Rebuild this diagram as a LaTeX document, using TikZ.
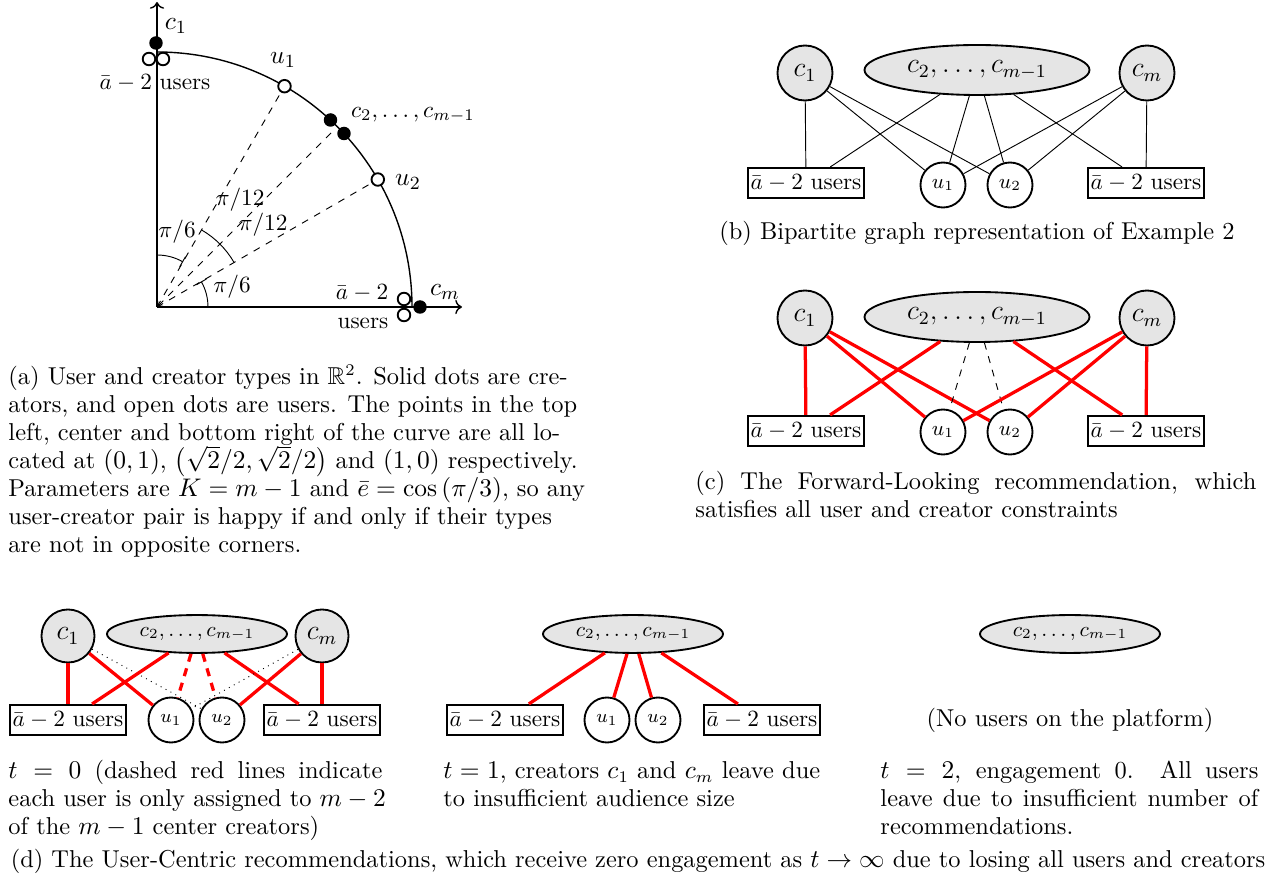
\documentclass[tikz,border=0pt]{standalone}
\usepackage{amsmath,amssymb,graphicx}
\usetikzlibrary{shapes.geometric,arrows.meta}
\newcommand\myjline[1]{\setbox0=\hbox{#1}\ifdim\wd0>\linewidth\hbox{\resizebox{\linewidth}{\ht0}{\box0}}\else\hbox to\linewidth{#1}\fi}
\newcommand\capfont{\fontsize{10.5}{12}\selectfont}
\newcommand\lblfont{\fontsize{11}{13}\selectfont}
\begin{document}
\begin{tikzpicture}[x=0.43pt,y=-0.43pt,
  cbig/.style={circle,draw,thick,fill=black!10,minimum size=23.65pt,inner sep=0pt,font=\large},
  csmall/.style={circle,draw,thick,fill=black!10,minimum size=22.8pt,inner sep=0pt,font=\large},
  ellbig/.style={ellipse,draw,thick,fill=black!10,minimum width=96.75pt,minimum height=21.5pt,inner sep=0pt,font=\large},
  ellsmall/.style={ellipse,draw,thick,fill=black!10,minimum width=77.4pt,minimum height=16.3pt,inner sep=0pt,font=\small},
  ubig/.style={circle,draw,thick,fill=white,minimum size=19.35pt,inner sep=0pt,font=\small},
  usmall/.style={circle,draw,thick,fill=white,minimum size=19.35pt,inner sep=0pt,font=\footnotesize},
  ubox/.style={rectangle,draw,thick,fill=white,minimum width=50pt,minimum height=13pt,inner sep=0pt},
  thinl/.style={black,line width=0.4pt},
  redl/.style={red,line width=1.4pt},
  reddash/.style={red,line width=1.4pt,dash pattern=on 3.5pt off 3pt},
  dashl/.style={black,line width=0.4pt,dashed},
  dotl/.style={black,line width=0.4pt,dotted},
  fdot/.style={circle,fill=black,minimum size=5.8pt,inner sep=0pt},
  odot/.style={circle,draw,thick,fill=white,minimum size=5.4pt,inner sep=0pt},
  captext/.style={inner sep=0pt,anchor=base west,font=\capfont},
]
\useasboundingbox (0,0) rectangle (1278,890);

% ---------------- (a) ----------------
\coordinate (O) at (157,307);
\coordinate (ytip) at (157,2);
\coordinate (xtip) at (462,307);
\draw[semithick,->] (O) -- (ytip);
\draw[semithick,->] (O) -- (xtip);
\draw[semithick] (157,52) arc (-90:0:255);

\coordinate (cmid) at (331,133);
\node[odot] (u1d) at (284.5,86.2) {};
\node[odot] (u2d) at (377.8,179.5) {};
\draw[dashl] (O) -- (u1d);
\draw[dashl,->] (cmid) -- (O);
\draw[dashl] (O) -- (u2d);

\node[fdot] (c1d) at (156,43) {};
\node[odot] (t1) at (149,59) {};
\node[odot] (t2) at (163,59) {};
\node[fdot] (cc1) at (330.5,120) {};
\node[fdot] (cc2) at (344,133.5) {};
\node[odot] (b1) at (404,299) {};
\node[odot] (b2) at (404,315) {};
\node[fdot] (cmd) at (420,307) {};

\draw[thinl,-{Bar[width=5pt]}] (157,255) arc (-90:-60:52);
\draw[thinl] (O) ++(-60:89) arc (-60:-30:89);
\draw[thinl,-{Bar[width=5pt]}] (208,307) arc (0:-30:51);

\node (la1) at (177,232) {$\pi/6$};
\node (la2) at (240,200) {$\pi/12$};
\node (la3) at (263,225) {$\pi/12$};
\node (la4) at (232,287) {$\pi/6$};
\node[font=\lblfont] (lc1) at (176,26) {$c_1$};
\node[font=\lblfont] (lu1) at (283,60) {$u_1$};
\node (lcc) at (413,115) {$c_2,\ldots,c_{m-1}$};
\node[font=\lblfont] (lu2) at (408,182) {$u_2$};
\node (lus1) at (155,83) {$\bar a-2$ users};
\node (lus2) at (362,293) {$\bar a-2$};
\node (lus3) at (363,323) {users};
\node[font=\lblfont] (lcm) at (445,292) {$c_m$};

\node[captext] (capa) at (8,385) {\parbox[t]{210pt}{%
\myjline{(a) User and creator types in $\mathbb{R}^2$. Solid dots are cre-}%
\myjline{ators, and open dots are users. The points in the top}%
\myjline{left, center and bottom right of the curve are all lo-}%
\myjline{cated at $(0,1)$, $\bigl(\sqrt{2}/2,\sqrt{2}/2\bigr)$ and $(1,0)$ respectively.}%
\myjline{Parameters are $K=m-1$ and $\bar{e}=\cos\left(\pi/3\right)$, so any}%
\myjline{user-creator pair is happy if and only if their types}%
\hbox{are not in opposite corners.}}};

% ---------------- (b) ----------------
\node[cbig] (bc1) at (805,73) {$c_1$};
\node[ellbig] (be) at (977,70) {$c_2,\ldots,c_{m-1}$};
\node[cbig] (bcm) at (1147,73) {$c_m$};
\node[ubox] (blb) at (806,183) {$\bar a-2$ users};
\node[ubig] (bu1) at (943,185) {$u_1$};
\node[ubig] (bu2) at (1010,185) {$u_2$};
\node[ubox] (brb) at (1146,183) {$\bar a-2$ users};
\draw[thinl] (bc1) -- (blb);
\draw[thinl] (bc1) -- (bu1);
\draw[thinl] (bc1) -- (bu2);
\draw[thinl] (be) -- (blb);
\draw[thinl] (be) -- (bu1);
\draw[thinl] (be) -- (bu2);
\draw[thinl] (be) -- (brb);
\draw[thinl] (bcm) -- (bu1);
\draw[thinl] (bcm) -- (bu2);
\draw[thinl] (bcm) -- (brb);
\node[inner sep=0pt,anchor=base,font=\capfont] (capb) at (977,240) {(b) Bipartite graph representation of Example 2};

% ---------------- (c) ----------------
\node[cbig] (cc1n) at (805,318) {$c_1$};
\node[ellbig] (ce) at (977,317) {$c_2,\ldots,c_{m-1}$};
\node[cbig] (ccm) at (1147,318) {$c_m$};
\node[ubox] (clb) at (806,431) {$\bar a-2$ users};
\node[ubig] (cu1) at (943,432) {$u_1$};
\node[ubig] (cu2) at (1010,432) {$u_2$};
\node[ubox] (crb) at (1146,431) {$\bar a-2$ users};
\draw[redl] (cc1n) -- (clb);
\draw[redl] (cc1n) -- (cu1);
\draw[redl] (cc1n) -- (cu2);
\draw[redl] (ce) -- (clb);
\draw[dashl] (ce) -- (cu1);
\draw[dashl] (ce) -- (cu2);
\draw[redl] (ce) -- (crb);
\draw[redl] (ccm) -- (cu1);
\draw[redl] (ccm) -- (cu2);
\draw[redl] (ccm) -- (crb);
\node[captext] (capc) at (695,490) {\parbox[t]{241.2pt}{%
\myjline{(c) The Forward-Looking recommendation, which}%
\hbox{satisfies all user and creator constraints}}};

% ---------------- (d) t=0 ----------------
\node[csmall] (d0c1) at (68,636) {$c_1$};
\node[ellsmall] (d0e) at (197,634) {$c_2,\ldots,c_{m-1}$};
\node[csmall] (d0cm) at (322,636) {$c_m$};
\node[ubox] (d0lb) at (68,720) {$\bar a-2$ users};
\node[usmall] (d0u1) at (171,720) {$u_1$};
\node[usmall] (d0u2) at (222,720) {$u_2$};
\node[ubox] (d0rb) at (322,720) {$\bar a-2$ users};
\draw[redl] (d0c1) -- (d0lb);
\draw[redl] (d0c1) -- (d0u1);
\draw[dotl] (d0c1) -- (d0u2);
\draw[redl] (d0e) -- (d0lb);
\draw[reddash] (d0e) -- (d0u1);
\draw[reddash] (d0e) -- (d0u2);
\draw[redl] (d0e) -- (d0rb);
\draw[dotl] (d0cm) -- (d0u1);
\draw[redl] (d0cm) -- (d0u2);
\draw[redl] (d0cm) -- (d0rb);
\node[captext] (capd0) at (8,779) {\parbox[t]{160.8pt}{%
\myjline{$t=0$ (dashed red lines indicate}%
\myjline{each user is only assigned to $m-2$}%
\hbox{of the $m-1$ center creators)}}};

% ---------------- (d) t=1 ----------------
\node[ellsmall] (d1e) at (633,634) {$c_2,\ldots,c_{m-1}$};
\node[ubox] (d1lb) at (505,720) {$\bar a-2$ users};
\node[usmall] (d1u1) at (607,720) {$u_1$};
\node[usmall] (d1u2) at (658,720) {$u_2$};
\node[ubox] (d1rb) at (762,720) {$\bar a-2$ users};
\draw[redl] (d1e) -- (d1lb);
\draw[redl] (d1e) -- (d1u1);
\draw[redl] (d1e) -- (d1u2);
\draw[redl] (d1e) -- (d1rb);
\node[captext] (capd1) at (443,779) {\parbox[t]{162pt}{%
\myjline{$t=1$, creators $c_1$ and $c_m$ leave due}%
\hbox{to insufficient audience size}}};

% ---------------- (d) t=2 ----------------
\node[ellsmall] (d2e) at (1070,634) {$c_2,\ldots,c_{m-1}$};
\node[font=\capfont] (d2t) at (1070,720) {(No users on the platform)};
\node[captext] (capd2) at (880,779) {\parbox[t]{162.5pt}{%
\myjline{$t=2$, engagement 0. All users}%
\myjline{leave due to insufficient number of}%
\hbox{recommendations.}}};

\node[inner sep=0pt,anchor=base,font=\capfont] (capd) at (638,868) {(d) The User-Centric recommendations, which receive zero engagement as $t\to\infty$ due to losing all users and creators};
\end{tikzpicture}
\end{document}
